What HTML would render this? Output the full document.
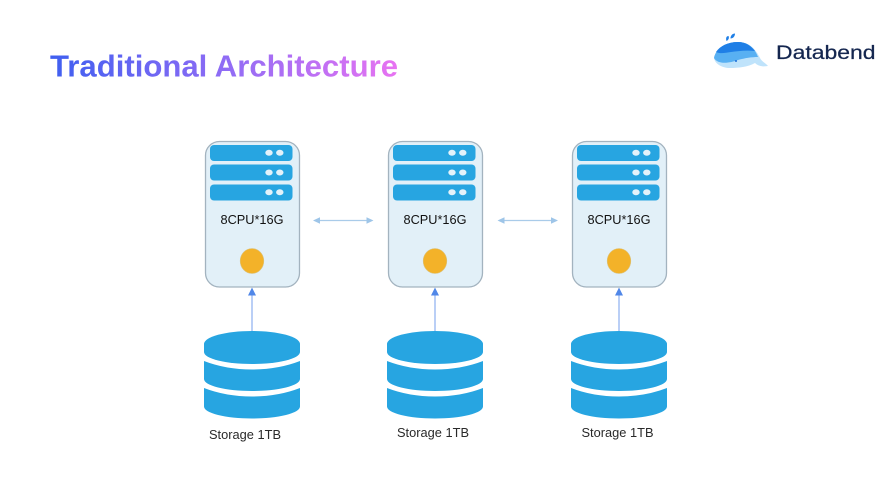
<!DOCTYPE html>
<html><head><meta charset="utf-8">
<style>html,body{margin:0;padding:0;background:#fff;width:895px;height:495px;overflow:hidden}svg{display:block}</style>
</head><body>
<svg xmlns="http://www.w3.org/2000/svg" width="895" height="495" viewBox="0 0 895 495">
<defs>
<linearGradient id="tg" gradientUnits="userSpaceOnUse" x1="50" y1="0" x2="398" y2="0">
<stop offset="0" stop-color="#3f5ff0"/><stop offset=".5" stop-color="#8f6cf5"/><stop offset="1" stop-color="#e873f2"/>
</linearGradient>
<g id="srv">
<rect x="205.5" y="141.5" width="94" height="145.500" rx="14" fill="#e2f0f8" stroke="#a3b3bf" stroke-width="1.300"/>
<rect x="210" y="145" width="82.500" height="16" rx="4" fill="#27a5e1"/>
<rect x="210" y="164.500" width="82.500" height="16" rx="4" fill="#27a5e1"/>
<rect x="210" y="184.500" width="82.500" height="16" rx="4" fill="#27a5e1"/>
<g fill="#e4f2fa">
<ellipse cx="269" cy="152.800" rx="3.700" ry="3"/><ellipse cx="279.800" cy="152.800" rx="3.700" ry="3"/>
<ellipse cx="269" cy="172.500" rx="3.700" ry="3"/><ellipse cx="279.800" cy="172.500" rx="3.700" ry="3"/>
<ellipse cx="269" cy="192.300" rx="3.700" ry="3"/><ellipse cx="279.800" cy="192.300" rx="3.700" ry="3"/>
</g>
<ellipse cx="252" cy="261" rx="11.800" ry="12.500" fill="#f3b229" stroke="#d9c27e" stroke-width=".6"/>
</g>
<g id="cyl">
<path d="M204 344A48 13 0 0 1 300 344V352A48 12 0 0 1 204 352Z" fill="#27a5e1"/>
<path d="M204 361Q226 369.500 252 369.500T300 361V379A48 12 0 0 1 204 379Z" fill="#27a5e1"/>
<path d="M204 388Q226 396.500 252 396.500T300 388V406.500A48 12 0 0 1 204 406.500Z" fill="#27a5e1"/>
</g>
<g id="up">
<line x1="252" y1="331" x2="252" y2="294" stroke="#a3bff2" stroke-width="1.500"/>
<path d="M252 287.500L256 295.500H248Z" fill="#5087e8"/>
</g>
<g id="lr">
<line x1="318" y1="220.500" x2="368" y2="220.500" stroke="#a9cbe9" stroke-width="1.200"/>
<path d="M313 220.500L320 217.300V223.700Z M373.500 220.500L366.500 217.300V223.700Z" fill="#9ec5e8"/>
</g>
</defs>

<text x="50" y="76.500" font-family="'Liberation Sans',sans-serif" font-size="31" font-weight="700" fill="url(#tg)" textLength="348" lengthAdjust="spacingAndGlyphs">Traditional Architecture</text>

<use href="#srv"/><use href="#srv" x="183"/><use href="#srv" x="367"/>
<use href="#lr"/><use href="#lr" x="184.500"/>
<use href="#up"/><use href="#up" x="183"/><use href="#up" x="367"/>
<use href="#cyl"/><use href="#cyl" x="183"/><use href="#cyl" x="367"/>

<g font-family="'Liberation Sans',sans-serif" fill="#111" font-size="13" text-anchor="middle">
<text x="252" y="224" textLength="63" lengthAdjust="spacingAndGlyphs">8CPU*16G</text>
<text x="435" y="224" textLength="63" lengthAdjust="spacingAndGlyphs">8CPU*16G</text>
<text x="619" y="224" textLength="63" lengthAdjust="spacingAndGlyphs">8CPU*16G</text>
</g>
<g font-family="'Liberation Sans',sans-serif" fill="#2a2a2a" font-size="12.500">
<text x="209" y="439" textLength="72" lengthAdjust="spacingAndGlyphs">Storage 1TB</text>
<text x="397" y="437" textLength="72" lengthAdjust="spacingAndGlyphs">Storage 1TB</text>
<text x="581.500" y="437" textLength="72" lengthAdjust="spacingAndGlyphs">Storage 1TB</text>
</g>

<!-- logo -->
<path d="M714 58C716 48 726 42 738 42C750 42 756 50 760 58C762 62 766 63 768 66C762 67 758 66 755 63C748 67 738 68 730 68C722 68 715 64 714 58Z" fill="#bfe3fb"/>
<path d="M714 58C716 48 726 42 738 42C749 42 755 49 758 57C752 57 745 58 738 60C730 63 718 65 714 58Z" fill="#58b0f2"/>
<path d="M716 52C720 46 728 42 738 42C746 42 751 46 755 51C746 50 738 51 731 52C725 53 720 54 716 52Z" fill="#1f7fe6"/>
<circle cx="736" cy="61" r="1" fill="#1f6fd8"/>
<path d="M726.500 41C725.500 38 726.500 36 728.500 36C729.500 38 728.500 40 726.500 41Z M730.500 38.500C730.500 35.500 732.500 33.500 735 33.500C735 36.500 733 38.500 730.500 38.500Z" fill="#1f7fe6"/>
<text x="776" y="59" font-family="'Liberation Sans',sans-serif" font-size="19.500" fill="#14264f" stroke="#14264f" stroke-width=".25" textLength="99.500" lengthAdjust="spacingAndGlyphs">Databend</text>
</svg>
</body></html>
